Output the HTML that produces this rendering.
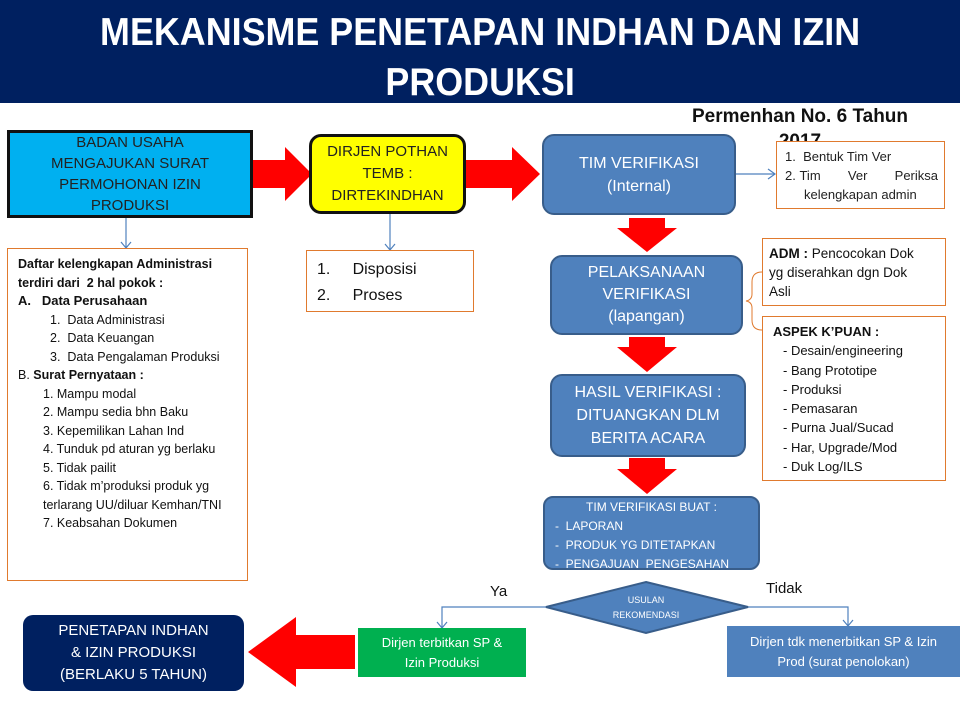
<!DOCTYPE html>
<html><head><meta charset="utf-8"><style>
*{margin:0;padding:0;box-sizing:border-box}
body{width:960px;height:720px;position:relative;background:#fff;font-family:"Liberation Sans",sans-serif;overflow:hidden}
.a{position:absolute}
.t{display:flex;align-items:center;justify-content:center;text-align:center}
.blue{background:#4f81bd;border:2px solid #385d8a;border-radius:12px;color:#fff}
.ob{border:1px solid #e07a2e;background:#fff}
</style></head><body>
<div class="a" style="left:0;top:0;width:960px;height:103px;background:#002060"></div>
<div class="a" style="left:0;top:8px;width:960px;text-align:center;color:#fff;font-weight:bold;font-size:39px;line-height:50px">
<div style="display:inline-block;transform:scaleX(0.92)">MEKANISME PENETAPAN INDHAN DAN IZIN<br>PRODUKSI</div></div>

<div class="a" style="left:675px;top:104px;width:250px;text-align:center;font-weight:bold;font-size:19px;line-height:25px;color:#111">Permenhan No. 6 Tahun<br>2017</div>

<svg class="a" style="left:0;top:0" width="960" height="720">
<g fill="#ff0000">
<polygon points="250,160 285,160 285,147 312,174 285,201 285,188 250,188"/>
<polygon points="465,160 512,160 512,147 540,174 512,201 512,188 465,188"/>
<polygon points="629,218 665,218 665,228 677,228 647,252 617,228 629,228"/>
<polygon points="629,337 665,337 665,347 677,347 647,372 617,347 629,347"/>
<polygon points="629,458 665,458 665,469 677,469 647,494 617,469 629,469"/>
<polygon points="355,635 296,635 296,617 248,652 296,687 296,669 355,669"/>
</g>
<g stroke="#4f81bd" stroke-width="1.2" fill="none">
<line x1="126" y1="218" x2="126" y2="248"/><polyline points="121,242 126,248 131,242"/>
<line x1="390" y1="214" x2="390" y2="250"/><polyline points="385,244 390,250 395,244"/>
<line x1="735" y1="174" x2="775" y2="174"/><polyline points="768,169 775,174 768,179"/>
<polyline points="546,607 442,607 442,628"/><polyline points="437,622 442,628 447,622"/>
<polyline points="746,607 848,607 848,626"/><polyline points="843,620 848,626 853,620"/>
</g>
<path d="M762,272 Q752,272 752,282 L752,294 Q752,300 746,301 Q752,302 752,308 L752,320 Q752,330 762,330" stroke="#e07a2e" stroke-width="1" fill="none"/>
<polygon points="646,582 748,607 646,633 546,607" fill="#4f81bd" stroke="#385d8a" stroke-width="2"/>
</svg>

<div class="a t" style="left:7px;top:130px;width:246px;height:88px;background:#00b0f0;border:3px solid #111;font-size:15px;line-height:21px;color:#222">BADAN USAHA<br>MENGAJUKAN SURAT<br>PERMOHONAN IZIN<br>PRODUKSI</div>
<div class="a t" style="left:309px;top:134px;width:157px;height:80px;background:#ffff00;border:3px solid #111;border-radius:12px;font-size:15px;line-height:22px;color:#222">DIRJEN POTHAN<br>TEMB :<br>DIRTEKINDHAN</div>
<div class="a t blue" style="left:542px;top:134px;width:194px;height:81px;font-size:16px;line-height:23px">TIM VERIFIKASI<br>(Internal)</div>
<div class="a ob" style="left:776px;top:141px;width:169px;height:68px;font-size:13px;line-height:19px;padding:5px 6px 0 8px;color:#222">
<div>1.&nbsp; Bentuk Tim Ver</div>
<div style="display:flex"><span>2.&nbsp;</span><span style="text-align:justify;text-align-last:justify;flex:1">Tim Ver Periksa</span></div>
<div style="padding-left:19px">kelengkapan admin</div></div>

<div class="a t blue" style="left:550px;top:255px;width:193px;height:80px;font-size:16px;line-height:22px">PELAKSANAAN<br>VERIFIKASI<br>(lapangan)</div>
<div class="a ob" style="left:762px;top:238px;width:184px;height:68px;font-size:13.5px;line-height:19px;padding:5px 6px;color:#111"><b>ADM :</b> Pencocokan Dok<br>yg diserahkan dgn Dok<br>Asli</div>
<div class="a ob" style="left:762px;top:316px;width:184px;height:165px;font-size:13px;line-height:19.3px;padding:5px 10px;color:#111"><b>ASPEK K’PUAN :</b><div style="padding-left:10px">- Desain/engineering<br>- Bang Prototipe<br>- Produksi<br>- Pemasaran<br>- Purna Jual/Sucad<br>- Har, Upgrade/Mod<br>- Duk Log/ILS</div></div>

<div class="a t blue" style="left:550px;top:374px;width:196px;height:83px;font-size:16px;line-height:23px">HASIL VERIFIKASI :<br>DITUANGKAN DLM<br>BERITA ACARA</div>
<div class="a blue" style="left:543px;top:496px;width:217px;height:74px;font-size:12px;line-height:19px;padding:0 0 0 10px;border-radius:10px;overflow:hidden">
<div style="text-align:center;padding-right:10px">TIM VERIFIKASI BUAT :</div>
<div>-&nbsp; LAPORAN</div><div>-&nbsp; PRODUK YG DITETAPKAN</div><div>-&nbsp; PENGAJUAN&nbsp; PENGESAHAN</div></div>
<div class="a t" style="left:586px;top:592px;width:120px;height:32px;color:#fff;font-size:9px;line-height:15px">USULAN<br>REKOMENDASI</div>
<div class="a" style="left:490px;top:583px;font-size:15px;color:#111">Ya</div>
<div class="a" style="left:766px;top:580px;font-size:15px;color:#111">Tidak</div>
<div class="a t" style="left:358px;top:628px;width:168px;height:49px;background:#00b050;color:#fff;font-size:13px;line-height:20px">Dirjen terbitkan SP &amp;<br>Izin Produksi</div>
<div class="a t" style="left:727px;top:626px;width:233px;height:51px;background:#4f81bd;color:#fff;font-size:13px;line-height:20px">Dirjen tdk menerbitkan SP &amp; Izin<br>Prod (surat penolokan)</div>
<div class="a t" style="left:23px;top:615px;width:221px;height:76px;background:#002060;border-radius:10px;color:#fff;font-size:15px;line-height:22px">PENETAPAN INDHAN<br>&amp; IZIN PRODUKSI<br>(BERLAKU 5 TAHUN)</div>

<div class="a ob" style="left:7px;top:248px;width:241px;height:333px;font-size:12.5px;line-height:18.5px;padding:6px 0 0 10px;color:#111">
<b>Daftar kelengkapan Administrasi<br>terdiri dari&nbsp; 2 hal pokok :</b>
<div style="font-size:13px"><b>A.&nbsp;&nbsp; Data Perusahaan</b></div>
<div style="padding-left:32px">1.&nbsp; Data Administrasi<br>2.&nbsp; Data Keuangan<br>3.&nbsp; Data Pengalaman Produksi</div>
<div>B. <b>Surat Pernyataan :</b></div>
<div style="padding-left:25px">1. Mampu modal<br>2. Mampu sedia bhn Baku<br>3. Kepemilikan Lahan Ind<br>4. Tunduk pd aturan yg berlaku<br>5. Tidak pailit<br>6. Tidak m’produksi produk yg<br>terlarang UU/diluar Kemhan/TNI<br>7. Keabsahan Dokumen</div></div>

<div class="a ob" style="left:306px;top:250px;width:168px;height:62px;font-size:16px;line-height:26px;padding:6px 0 0 10px;color:#111">1.&nbsp;&nbsp;&nbsp;&nbsp; Disposisi<br>2.&nbsp;&nbsp;&nbsp;&nbsp; Proses</div>
</body></html>
